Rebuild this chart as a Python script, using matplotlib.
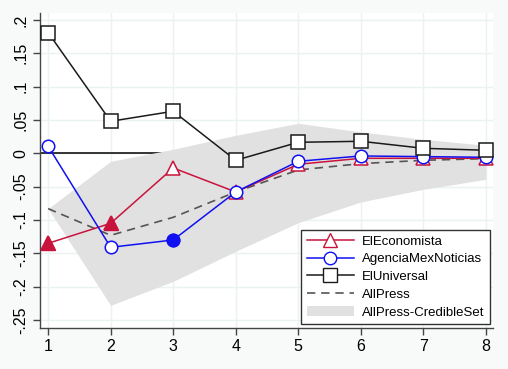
import matplotlib
matplotlib.use("Agg")
import matplotlib.pyplot as plt
from matplotlib.patches import Patch
from matplotlib.lines import Line2D

plt.rcParams['font.family'] = ['Liberation Sans', 'DejaVu Sans']

# horizonte
horizon = [1, 2, 3, 4, 5, 6, 7, 8]

# series
el_universal = [0.181, 0.048, 0.063, -0.0105, 0.0165, 0.018, 0.0075, 0.0045]
agencia_mex = [0.0105, -0.141, -0.130, -0.058, -0.012, -0.004, -0.005, -0.006]
el_economista = [-0.135, -0.105, -0.022, -0.058, -0.0165, -0.0075, -0.0075, -0.0075]
all_press = [-0.083, -0.123, -0.096, -0.058, -0.025, -0.0155, -0.0105, -0.008]
band_upper = [-0.083, -0.012, 0.006, 0.027, 0.045, 0.032, 0.021, 0.012]
band_lower = [-0.083, -0.228, -0.192, -0.147, -0.104, -0.073, -0.054, -0.039]

# puntos rellenos (significativos)
economista_filled = [0, 1]
agencia_filled = [2]

yticks = [0.2, 0.15, 0.1, 0.05, 0, -0.05, -0.1, -0.15, -0.2, -0.25]
ylabels = ['.2', '.15', '.1', '.05', '0', '-.05', '-.1', '-.15', '-.2', '-.25']

red = '#C8143C'
blue = '#1010F0'

fig = plt.figure(figsize=(5.08, 3.69), dpi=100, facecolor='#F8FAFA')
ax = fig.add_axes([0.079, 0.112, 0.891, 0.853])
ax.set_facecolor('white')

ax.axhline(0, color='black', lw=1.1, zorder=1)
ax.fill_between(horizon, band_lower, band_upper, color='#E1E1E1', lw=0, zorder=2)
ax.plot(horizon, all_press, color='#555555', lw=1.2, ls=(0, (5, 3.5)), zorder=3)

ax.plot(horizon, el_economista, color=red, lw=1.1, marker='^', ms=10,
        mfc='white', mec=red, mew=1.1, zorder=4)
ax.plot(horizon, agencia_mex, color=blue, lw=1.1, marker='o', ms=9,
        mfc='white', mec=blue, mew=1.1, zorder=5)
ax.plot(horizon, el_universal, color='#1a1a1a', lw=1.1, marker='s', ms=10,
        mfc='white', mec='#1a1a1a', mew=1.1, zorder=6)

ax.plot([horizon[i] for i in economista_filled], [el_economista[i] for i in economista_filled],
        ls='none', marker='^', ms=10, color=red, zorder=7)
ax.plot([horizon[i] for i in agencia_filled], [agencia_mex[i] for i in agencia_filled],
        ls='none', marker='o', ms=9, color=blue, zorder=7)

ax.set_xlim(0.872, 8.11)
ax.set_ylim(-0.2615, 0.2105)
ax.set_xticks(horizon)
ax.set_yticks(yticks)
ax.set_yticklabels(ylabels, rotation=90, va='center')
ax.tick_params(axis='both', labelsize=11.5, direction='out', length=5,
               color='#444444', width=1)
ax.grid(True, color='#EAF2F3', lw=1, zorder=0)
ax.set_axisbelow(True)
for s in ['top', 'right']:
    ax.spines[s].set_visible(False)
for s in ['left', 'bottom']:
    ax.spines[s].set_color('#444444')
    ax.spines[s].set_linewidth(1)

handles = [
    Line2D([], [], color=red, lw=1.1, marker='^', ms=10, mfc='white', mec=red),
    Line2D([], [], color=blue, lw=1.1, marker='o', ms=9, mfc='white', mec=blue),
    Line2D([], [], color='#1a1a1a', lw=1.1, marker='s', ms=10, mfc='white', mec='#1a1a1a'),
    Line2D([], [], color='#555555', lw=1.2, ls=(0, (5, 3.5))),
    Patch(facecolor='#E1E1E1', edgecolor='none'),
]
labels = ['ElEconomista', 'AgenciaMexNoticias', 'ElUniversal', 'AllPress', 'AllPress-CredibleSet']
leg = ax.legend(handles, labels, loc='lower right', bbox_to_anchor=(0.9934, 0.012),
                borderaxespad=0, fontsize=9.5, handlelength=3.6, handletextpad=0.6,
                labelspacing=0.42, borderpad=0.4, fancybox=False, framealpha=1,
                edgecolor='#333333')
leg.get_frame().set_linewidth(1)
leg.set_zorder(10)

fig.savefig('out.png', dpi=100, facecolor=fig.get_facecolor())
